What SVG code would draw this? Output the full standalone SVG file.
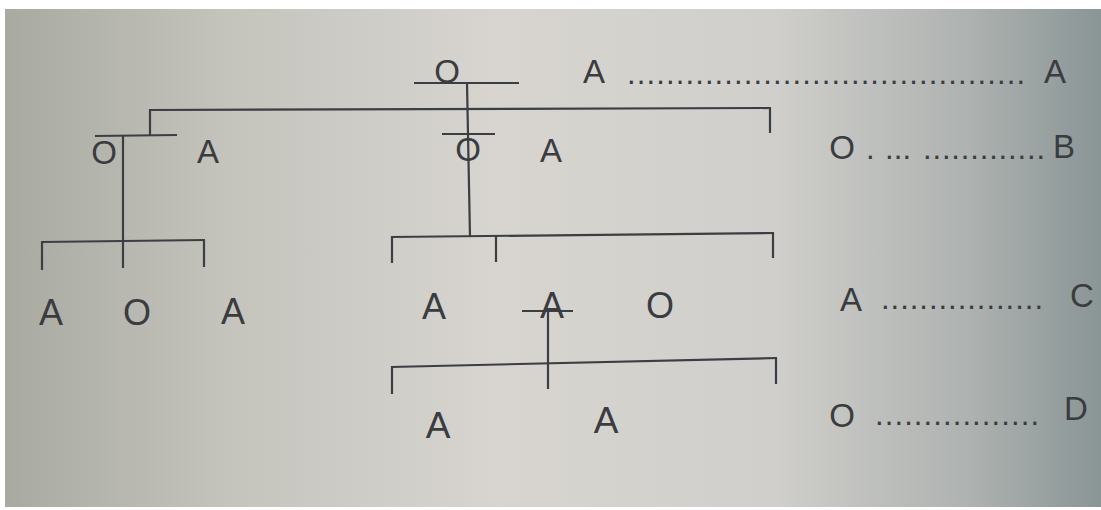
<svg xmlns="http://www.w3.org/2000/svg" width="1101" height="510" viewBox="0 0 1101 510">
<style>
.t{font-family:"Liberation Sans",Arial,sans-serif;fill:#3a3c3f;text-anchor:middle}
.s{font-size:33px}
.m{font-size:36px}
.b{font-size:37px}
.d{font-family:"Liberation Sans",Arial,sans-serif;fill:#3a3c3f;font-size:31px}
.c line{stroke:#3b3e42;stroke-width:2.2;stroke-linecap:butt}
</style>
<defs>
<linearGradient id="bg" x1="0" y1="0" x2="1" y2="0">
<stop offset="0" stop-color="#a8aaa2"/>
<stop offset="0.2" stop-color="#c4c3bc"/>
<stop offset="0.45" stop-color="#d8d5d0"/>
<stop offset="0.7" stop-color="#d0cfcb"/>
<stop offset="0.88" stop-color="#aeb2b0"/>
<stop offset="1" stop-color="#8a9596"/>
</linearGradient>
</defs>
<rect width="1101" height="510" fill="#ffffff"/>
<rect x="5" y="9" width="1096" height="498" fill="url(#bg)"/>
<g class="c" id="connectors">
<line x1="414" y1="83" x2="519" y2="83"/>
<line x1="467" y1="83" x2="470" y2="237"/>
<line x1="442" y1="134" x2="495" y2="134"/>
<line x1="149" y1="110" x2="771" y2="108"/>
<line x1="150" y1="109" x2="150" y2="136"/>
<line x1="770" y1="108" x2="770" y2="133"/>
<line x1="95" y1="136" x2="177" y2="135"/>
<line x1="123" y1="136" x2="123" y2="268"/>
<line x1="41" y1="242" x2="205" y2="240"/>
<line x1="42" y1="241" x2="42" y2="270"/>
<line x1="204" y1="240" x2="204" y2="267"/>
<line x1="391" y1="237" x2="774" y2="233"/>
<line x1="392" y1="236" x2="392" y2="263"/>
<line x1="496" y1="236" x2="496" y2="262"/>
<line x1="773" y1="233" x2="773" y2="258"/>
<line x1="522" y1="311" x2="573" y2="311"/>
<line x1="548" y1="311" x2="548" y2="389"/>
<line x1="391" y1="367" x2="777" y2="358"/>
<line x1="392" y1="366" x2="392" y2="394"/>
<line x1="776" y1="358" x2="776" y2="384"/>
</g>
<g id="n-root"><text class="t s" x="447" y="83">O</text></g>
<g id="n-top-a"><text class="t s" x="594" y="83">A</text></g>
<g id="n-left-o"><text class="t s" x="104" y="164">O</text></g>
<g id="n-left-a"><text class="t s" x="208" y="163">A</text></g>
<g id="n-mid-o"><text class="t s" x="468" y="161">O</text></g>
<g id="n-mid-a"><text class="t s" x="551" y="162">A</text></g>
<g id="n-ll-a1"><text class="t m" x="51" y="325">A</text></g>
<g id="n-ll-o"><text class="t m" x="137" y="325">O</text></g>
<g id="n-ll-a2"><text class="t m" x="233" y="324">A</text></g>
<g id="n-m-a1"><text class="t m" x="434" y="319">A</text></g>
<g id="n-m-a2"><text class="t m" x="552" y="318">A</text></g>
<g id="n-m-o"><text class="t m" x="660" y="318">O</text></g>
<g id="n-b-a1"><text class="t b" x="438" y="438">A</text></g>
<g id="n-b-a2"><text class="t b" x="606" y="433">A</text></g>
<g id="legend-a">
<text class="d" x="627" y="84" textLength="398" lengthAdjust="spacing">.........................................</text>
<text class="t s" x="1055" y="83">A</text>
</g>
<g id="legend-b">
<text class="t s" x="842" y="159">O</text>
<text class="d" x="866" y="159">.</text>
<text class="d" x="885" y="159" textLength="26" lengthAdjust="spacing">...</text>
<text class="d" x="923" y="159" textLength="122" lengthAdjust="spacing">.............</text>
<text class="t s" x="1064" y="158">B</text>
</g>
<g id="legend-c">
<text class="t s" x="851" y="311">A</text>
<text class="d" x="881" y="309" textLength="162" lengthAdjust="spacing">.................</text>
<text class="t s" x="1082" y="307">C</text>
</g>
<g id="legend-d">
<text class="t s" x="842" y="427">O</text>
<text class="d" x="875" y="425" textLength="164" lengthAdjust="spacing">.................</text>
<text class="t s" x="1076" y="420">D</text>
</g>
</svg>
